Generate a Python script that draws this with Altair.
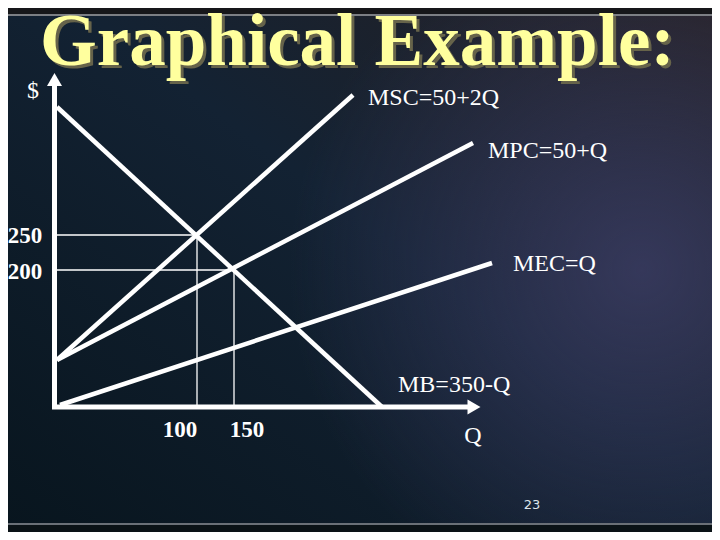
import altair as alt
import pandas as pd

# ---------------- data (schematic units, origin at the axes' corner) ----------------
TITLE = "Graphical Example:"
curve_names = ["MSC", "MPC", "MEC", "MB"]
curve_labels = ["MSC=50+2Q", "MPC=50+Q", "MEC=Q", "MB=350-Q"]
q_start = [0, 0, 3, 0]
p_start = [47, 47, 2, 300]
q_end = [296, 416, 435, 325]
p_end = [312, 264, 144, 0]
label_q = [311, 431, 456, 341]
label_p = [309, 256, 143, 22]

eq_q = [140, 177]
eq_p = [172, 137]

price_ticks = ["250", "200"]
price_tick_q = [-32, -32]
price_tick_p = [171, 135]
qty_ticks = ["100", "150"]
qty_tick_q = [123, 190]
qty_tick_p = [-23, -23]

axis_q0 = [-2.5, -5]
axis_p0 = [-2, 0]
axis_q1 = [-2.5, 412]
axis_p1 = [322, 0]
arrow_q = [-2.5, 417]
arrow_p = [327.5, 0]
arrow_shape = ["triangle-up", "triangle-right"]

axis_names = ["$", "Q"]
axis_name_q = [-24, 416]
axis_name_p = [316, -29]

page_number = "23"
page_q = [475]
page_p = [-98]

W, H = 704, 524
xs = alt.Scale(domain=[-49, 655], nice=False, zero=False)
ys = alt.Scale(domain=[-125, 399], nice=False, zero=False)

curves = pd.DataFrame(dict(name=curve_names, label=curve_labels, q0=q_start, p0=p_start,
                           q1=q_end, p1=p_end, lq=label_q, lp=label_p))
eq = pd.DataFrame(dict(q=eq_q, p=eq_p, z=[0, 0]))
pt = pd.DataFrame(dict(t=price_ticks, q=price_tick_q, p=price_tick_p))
qt = pd.DataFrame(dict(t=qty_ticks, q=qty_tick_q, p=qty_tick_p))
ax = pd.DataFrame(dict(q0=axis_q0, p0=axis_p0, q1=axis_q1, p1=axis_p1))
arr = pd.DataFrame(dict(q=arrow_q, p=arrow_p, s=arrow_shape))
an = pd.DataFrame(dict(t=axis_names, q=axis_name_q, p=axis_name_p))
pg = pd.DataFrame(dict(t=[page_number], q=page_q, p=page_p))
one = pd.DataFrame(dict(a=[0]))

X = lambda f: alt.X(f, type="quantitative", scale=xs, axis=None)
Y = lambda f: alt.Y(f, type="quantitative", scale=ys, axis=None)

# ---------------- background ----------------
bg_base = alt.Chart(one).mark_rect(
    color=alt.LinearGradient(
        gradient="linear", x1=1, y1=0, x2=0, y2=1,
        stops=[alt.GradientStop(offset=0, color="#262124"),
               alt.GradientStop(offset=0.45, color="#132233"),
               alt.GradientStop(offset=1, color="#08151e")])
).encode(x=alt.value(0), x2=alt.value(W), y=alt.value(0), y2=alt.value(H))

bg_glow = alt.Chart(one).mark_rect(
    color=alt.RadialGradient(
        gradient="radial", x1=0.9, y1=0.5, r1=0, x2=0.9, y2=0.5, r2=0.5,
        stops=[alt.GradientStop(offset=0, color="rgba(58,60,98,0.85)"),
               alt.GradientStop(offset=1, color="rgba(58,60,98,0)")])
).encode(x=alt.value(0), x2=alt.value(W), y=alt.value(0), y2=alt.value(H))

top_band = alt.Chart(one).mark_rect(color="#16171a").encode(
    x=alt.value(0), x2=alt.value(W), y=alt.value(0), y2=alt.value(6))
top_line = alt.Chart(one).mark_rule(color="#7c7f84", strokeWidth=2).encode(
    x=alt.value(0), x2=alt.value(W), y=alt.value(7))
bot_band = alt.Chart(one).mark_rect(color="#0a1216").encode(
    x=alt.value(0), x2=alt.value(W), y=alt.value(517), y2=alt.value(H))
bot_line = alt.Chart(one).mark_rule(color="#6a7077", strokeWidth=2).encode(
    x=alt.value(0), x2=alt.value(W), y=alt.value(516))

# ---------------- title ----------------
title_shadow = alt.Chart(one).mark_text(
    text=TITLE, font="Liberation Serif", fontWeight="bold", fontSize=73,
    color="#66634a", align="left", baseline="alphabetic"
).encode(x=alt.value(35), y=alt.value(60))
title = alt.Chart(one).mark_text(
    text=TITLE, font="Liberation Serif", fontWeight="bold", fontSize=73,
    color="#ffff9e", align="left", baseline="alphabetic"
).encode(x=alt.value(32), y=alt.value(57))

# ---------------- diagram ----------------
guides_h = alt.Chart(eq).mark_rule(color="white", strokeWidth=1.3).encode(
    x=alt.X("z:Q", scale=xs, axis=None), x2="q:Q", y=Y("p"))
guides_v = alt.Chart(eq).mark_rule(color="white", strokeWidth=1.3).encode(
    x=X("q"), y=alt.Y("p:Q", scale=ys, axis=None), y2="z:Q")

lines = alt.Chart(curves).mark_rule(color="white", strokeWidth=4.5).encode(
    x=X("q0"), x2="q1:Q", y=Y("p0"), y2="p1:Q")

axes = alt.Chart(ax).mark_rule(color="white", strokeWidth=5).encode(
    x=X("q0"), x2="q1:Q", y=Y("p0"), y2="p1:Q")
arrows = alt.Chart(arr).mark_point(filled=True, color="white", opacity=1, size=225).encode(
    x=X("q"), y=Y("p"), shape=alt.Shape("s:N", scale=None, legend=None))

curve_text = alt.Chart(curves).mark_text(
    font="Liberation Serif", fontSize=24, color="white", align="left", baseline="middle"
).encode(x=X("lq"), y=Y("lp"), text="label:N")

price_text = alt.Chart(pt).mark_text(
    font="Liberation Serif", fontWeight="bold", fontSize=23, color="white",
    align="center", baseline="middle"
).encode(x=X("q"), y=Y("p"), text="t:N")
qty_text = alt.Chart(qt).mark_text(
    font="Liberation Serif", fontWeight="bold", fontSize=23, color="white",
    align="center", baseline="middle"
).encode(x=X("q"), y=Y("p"), text="t:N")

axis_text = alt.Chart(an).mark_text(
    font="Liberation Serif", fontSize=24, color="white", align="center", baseline="middle"
).encode(x=X("q"), y=Y("p"), text="t:N")

page_text = alt.Chart(pg).mark_text(
    font="DejaVu Sans", fontSize=13, color="#dde4ea", align="center", baseline="middle"
).encode(x=X("q"), y=Y("p"), text="t:N")

chart = alt.layer(
    bg_base, bg_glow, top_band, top_line, bot_band, bot_line,
    title_shadow, title,
    guides_h, guides_v, lines, axes, arrows,
    curve_text, price_text, qty_text, axis_text, page_text
).properties(
    width=W, height=H, padding=0, autosize="none", background="#0f1c28"
).configure_view(strokeWidth=0)

chart.save("out.html", embed_options={"renderer": "svg", "actions": False})
